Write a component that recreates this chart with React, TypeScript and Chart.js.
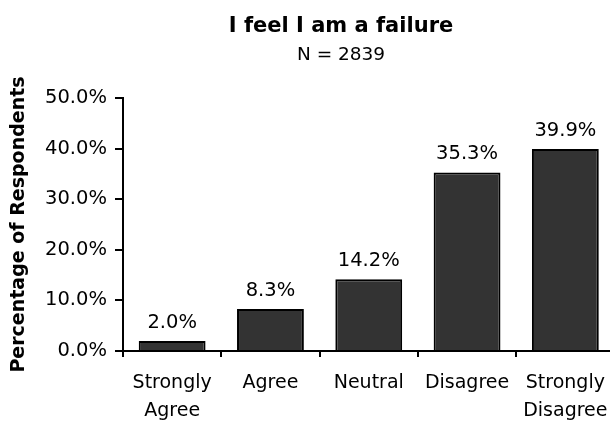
import React, { useEffect, useRef } from "react";
import { Chart, registerables } from "chart.js";

Chart.register(...registerables);

const titleText = "I feel I am a failure";
const subtitleText = "N = 2839";
const yAxisTitle = "Percentage of Respondents";
const categories: (string | string[])[] = [
  ["Strongly", "Agree"],
  "Agree",
  "Neutral",
  "Disagree",
  ["Strongly", "Disagree"],
];
const percentages = [2.0, 8.3, 14.2, 35.3, 39.9];
const yTicks = [0, 10, 20, 30, 40, 50];

const FONT = "'DejaVu Sans', Tahoma, Verdana, sans-serif";

const headerPlugin = {
  id: "header",
  afterDraw(chart: any) {
    const ctx = chart.ctx;
    ctx.save();
    ctx.fillStyle = "#000";
    ctx.textAlign = "center";
    ctx.textBaseline = "alphabetic";
    ctx.font = `bold 21px ${FONT}`;
    ctx.fillText(titleText, 341, 32);
    ctx.font = `18.5px ${FONT}`;
    ctx.fillText(subtitleText, 341, 60);
    ctx.restore();
  },
};

const valueLabelPlugin = {
  id: "valueLabels",
  afterDatasetsDraw(chart: any) {
    const ctx = chart.ctx;
    const meta = chart.getDatasetMeta(0);
    ctx.save();
    ctx.fillStyle = "#000";
    ctx.textAlign = "center";
    ctx.textBaseline = "alphabetic";
    ctx.font = `19.5px ${FONT}`;
    meta.data.forEach((bar: any, i: number) => {
      ctx.fillText(percentages[i].toFixed(1) + "%", bar.x, bar.y - 13);
    });
    ctx.restore();
  },
};

export default function App() {
  const ref = useRef<HTMLCanvasElement | null>(null);
  useEffect(() => {
    if (!ref.current) return;
    const chart = new Chart(ref.current, {
      type: "bar",
      data: {
        labels: categories,
        datasets: [
          {
            data: percentages,
            backgroundColor: "#333333",
            borderColor: "#000000",
            borderWidth: 2,
            categoryPercentage: 1,
            barPercentage: 0.68,
          },
        ],
      },
      options: {
        animation: false,
        responsive: false,
        layout: { padding: { top: 98, right: 5, left: 0, bottom: 0 } },
        plugins: {
          legend: { display: false },
          title: { display: false },
          tooltip: { enabled: false },
        },
        scales: {
          x: {
            offset: true,
            grid: {
              display: true,
              offset: true,
              drawOnChartArea: false,
              drawTicks: true,
              tickLength: 6,
              color: "#000",
              lineWidth: 2,
            },
            border: { display: true, color: "#000", width: 2 },
            ticks: {
              color: "#000",
              font: { family: FONT, size: 19, lineHeight: "28px" },
              padding: 12,
              maxRotation: 0,
              autoSkip: false,
            },
            afterFit(scale: any) {
              scale.height = 73;
            },
          },
          y: {
            min: 0,
            max: 50,
            afterBuildTicks(scale: any) {
              scale.ticks = yTicks.map((v) => ({ value: v }));
            },
            grid: {
              display: true,
              drawOnChartArea: false,
              drawTicks: true,
              tickLength: 8,
              color: "#000",
              lineWidth: 2,
            },
            border: { display: true, color: "#000", width: 2 },
            ticks: {
              color: "#000",
              font: { family: FONT, size: 19.5 },
              padding: 8,
              callback: (v: any) => Number(v).toFixed(1) + "%",
            },
            title: {
              display: true,
              text: yAxisTitle,
              color: "#000",
              font: { family: FONT, size: 19, weight: "bold" },
              padding: { top: 8, bottom: 0 },
            },
            afterFit(scale: any) {
              scale.width = 123;
            },
          },
        },
      },
      plugins: [headerPlugin, valueLabelPlugin],
    } as any);
    return () => chart.destroy();
  }, []);

  return (
    <div
      style={{
        position: "fixed",
        left: 0,
        top: 0,
        width: 610,
        height: 424,
        overflow: "hidden",
        background: "#fff",
      }}
    >
      <canvas ref={ref} width={620} height={424} style={{ width: 620, height: 424 }} />
    </div>
  );
}
